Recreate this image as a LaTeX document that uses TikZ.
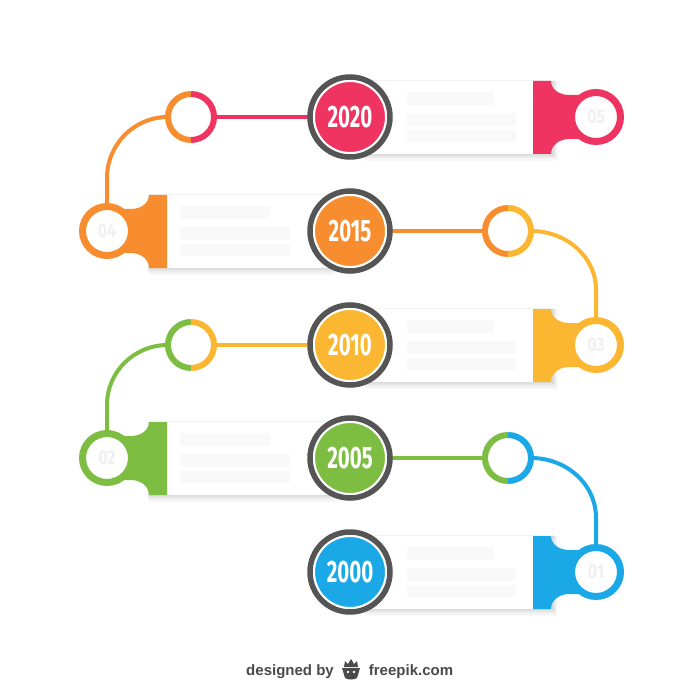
\documentclass[tikz,border=0pt]{standalone}
\usepackage{fontspec}
\usepackage{graphicx}
\setmainfont{Liberation Sans}
\newfontfamily\yearfont{Fira Sans}
\usetikzlibrary{calc}
\definecolor{cpink}{HTML}{EF3461}
\definecolor{corange}{HTML}{F78D2E}
\definecolor{cyellow}{HTML}{FBB731}
\definecolor{cgreen}{HTML}{7DBD42}
\definecolor{cblue}{HTML}{1AA8E7}
\definecolor{cring}{HTML}{555555}
\definecolor{cfoot}{HTML}{4A4A4A}
\pgfdeclarelayer{bg}
\pgfdeclarelayer{paper}
\pgfsetlayers{paper,bg,main}
\tikzset{
  yearc/.style={circle, minimum size=72pt, inner sep=0pt, draw=white, line width=2pt, fill=#1, text=white,
    font=\yearfont\bfseries\fontsize{31}{31}\selectfont},
  bigring/.style={circle, minimum size=49pt, inner sep=0pt, draw=#1, line width=7pt, fill=white, text=black!6,
    font=\yearfont\bfseries\fontsize{20}{20}\selectfont},
  smallring/.style={circle, minimum size=46pt, inner sep=0pt, fill=white},
  conn/.style={line width=4pt, draw=#1},
  ghost/.style={fill=black!2.5},
  darkring/.style={draw=cring, line width=5.5pt},
}
% right-hand box: #1 = centre y, #2 = colour
\newcommand\tlBoxR[2]{%
  \foreach \k in {1,...,6}{\fill[black,opacity=0.025] (365,#1-37+0.2*\k) rectangle (553+0.7*\k,#1+37+1.1*\k);}
  \fill[white] (350,#1-36) rectangle (533,#1+37);
  \fill[ghost] (407,#1-25) rectangle (494,#1-12);
  \fill[ghost] (407,#1-4) rectangle (516,#1+9);
  \fill[ghost] (407,#1+13) rectangle (516,#1+25);
  \fill[#2] (533,#1-36) -- (551,#1-36) to[out=-90,in=180] (569,#1-22) -- (582,#1-22)
    -- (582,#1+22) -- (569,#1+22) to[out=180,in=90] (551,#1+37) -- (533,#1+37) -- cycle;
}
% left-hand box
\newcommand\tlBoxL[2]{%
  \foreach \k in {1,...,6}{\fill[black,opacity=0.025] (147+0.3*\k,#1-37+0.2*\k) rectangle (335,#1+37+1.1*\k);}
  \fill[white] (167,#1-36) rectangle (350,#1+37);
  \fill[ghost] (180,#1-25) rectangle (270,#1-12);
  \fill[ghost] (180,#1-4) rectangle (290,#1+9);
  \fill[ghost] (180,#1+13) rectangle (290,#1+25);
  \fill[#2] (167,#1-36) -- (149,#1-36) to[out=-90,in=0] (131,#1-22) -- (120,#1-22)
    -- (120,#1+22) -- (131,#1+22) to[out=0,in=90] (149,#1+37) -- (167,#1+37) -- cycle;
}
\newcommand\tlHalves[3]{% node, left colour, right colour
  \draw[#2, line width=6pt] (#1.center) ++(90:23pt) arc[start angle=90, end angle=270, radius=23pt];
  \draw[#3, line width=6pt] (#1.center) ++(90:23pt) arc[start angle=90, end angle=-90, radius=23pt];
}
\begin{document}
\begin{tikzpicture}[x=1pt,y=-1pt]
\useasboundingbox (0,0) rectangle (700,700);
\begin{pgfonlayer}{paper}
  \fill[white] (0,0) rectangle (700,700);
\end{pgfonlayer}

% boxes and tabs
\tlBoxR{117}{cpink}
\tlBoxL{231}{corange}
\tlBoxR{345}{cyellow}
\tlBoxL{458}{cgreen}
\tlBoxR{572}{cblue}

% big numbered rings
\node[bigring=cpink]   (r5) at (596,117) {\scalebox{0.8}[1]{05}};
\node[bigring=corange] (r4) at (107,231) {\scalebox{0.8}[1]{04}};
\node[bigring=cyellow] (r3) at (596,345) {\scalebox{0.8}[1]{03}};
\node[bigring=cgreen]  (r2) at (107,458) {\scalebox{0.8}[1]{02}};
\node[bigring=cblue]   (r1) at (596,572) {\scalebox{0.8}[1]{01}};

% small two-colour rings
\node[smallring] (s1) at (191,117) {};
\node[smallring] (s2) at (508,231) {};
\node[smallring] (s3) at (191,345) {};
\node[smallring] (s4) at (508,458) {};
\tlHalves{s1}{corange}{cpink}
\tlHalves{s2}{corange}{cyellow}
\tlHalves{s3}{cgreen}{cyellow}
\tlHalves{s4}{cgreen}{cblue}

% year circles
\node[yearc=cpink]   (y1) at (350,117) {\scalebox{0.66}[1]{2020}};
\node[yearc=corange] (y2) at (350,231) {\scalebox{0.66}[1]{2015}};
\node[yearc=cyellow] (y3) at (350,345) {\scalebox{0.66}[1]{2010}};
\node[yearc=cgreen]  (y4) at (350,458) {\scalebox{0.66}[1]{2005}};
\node[yearc=cblue]   (y5) at (350,572) {\scalebox{0.66}[1]{2000}};
\foreach \n in {y1,y2,y3,y4,y5}{\draw[darkring] (\n.center) circle (40pt);}

% bend points
\coordinate (b1) at (107,178);
\coordinate (b2) at (596,290);
\coordinate (b3) at (107,405);
\coordinate (b4) at (596,518);

\begin{pgfonlayer}{bg}
  \draw[conn=cpink] (s1.center) -- (y1.center);
  \draw[conn=corange] (s1.west) to[out=180,in=90] (b1) -- (r4.center);
  \draw[conn=corange] (y2.center) -- (s2.center);
  \draw[conn=cyellow] (s2.east) to[out=0,in=90] (b2) -- (r3.center);
  \draw[conn=cyellow] (s3.center) -- (y3.center);
  \draw[conn=cgreen] (s3.west) to[out=180,in=90] (b3) -- (r2.center);
  \draw[conn=cgreen] (y4.center) -- (s4.center);
  \draw[conn=cblue] (s4.east) to[out=0,in=90] (b4) -- (r1.center);
\end{pgfonlayer}

% footer
\node[font=\bfseries\fontsize{15}{15}\selectfont, text=cfoot] (f1) at (290,672) {designed by};
\node[font=\bfseries\fontsize{15}{15}\selectfont, text=cfoot] (f2) at (411,672) {freepik.com};
\fill[cfoot] (342,668) -- (360,668) -- (357,678) .. controls (354,680) and (348,680) .. (345,678) -- cycle;
\fill[cfoot] (344,667) -- (345,661) -- (348,664) -- (351,659) -- (354,664) -- (357,661) -- (358,667) -- cycle;
\fill[white] (348,672) circle (1.4pt);
\fill[white] (354,672) circle (1.4pt);
\end{tikzpicture}
\end{document}
